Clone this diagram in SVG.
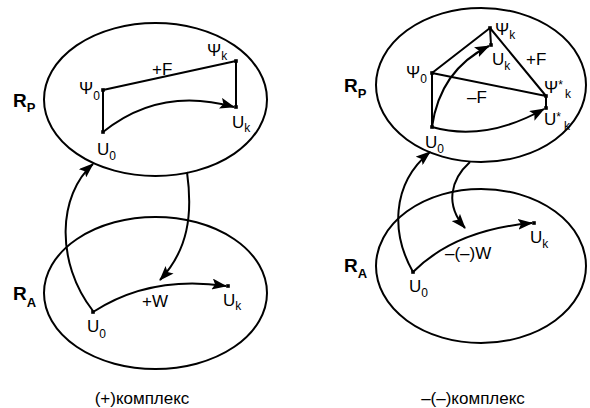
<svg xmlns="http://www.w3.org/2000/svg" width="590" height="408" viewBox="0 0 590 408">
<style>
.e{fill:none;stroke:#000;stroke-width:2}
.l{fill:none;stroke:#000;stroke-width:2}
.a{fill:none;stroke:#000;stroke-width:2;marker-end:url(#ah)}
.t{font-family:"Liberation Sans",Arial,sans-serif;font-size:17px;fill:#000}
.s{font-size:12px}
.r{font-family:"Liberation Sans",Arial,sans-serif;font-size:19px;font-weight:bold;fill:#000}
.rs{font-size:13px}
.c{font-family:"Liberation Sans",Arial,sans-serif;font-size:17px;fill:#000;text-anchor:middle}
</style>
<defs>
<marker id="ah" markerUnits="userSpaceOnUse" markerWidth="15" markerHeight="11" refX="14" refY="5.5" orient="auto">
<path d="M0,0 L15,5.5 L0,11 L3,5.5 z" fill="#000"/>
</marker>
<rect id="pt" x="-1.8" y="-1.8" width="3.6" height="3.6" fill="#000"/>
</defs>

<g id="left-RP">
<ellipse class="e" cx="155.5" cy="99.5" rx="111.5" ry="76.5"/>
<path class="l" d="M103,90 L236,61 M103,90 L103,132 M236,61 L236,107"/>
<path class="a" d="M103,132 Q160,86 234,107"/>
<use href="#pt" x="103" y="90"/><use href="#pt" x="236" y="61"/><use href="#pt" x="103" y="132"/><use href="#pt" x="236" y="107"/>
<text class="r" x="13" y="107">R<tspan class="rs" dy="5">P</tspan></text>
<text class="t" x="79" y="94">Ψ<tspan class="s" dy="6">0</tspan></text>
<text class="t" x="207" y="56">Ψ<tspan class="s" dy="4">k</tspan></text>
<text class="t" x="152" y="75">+F</text>
<text class="t" x="97" y="155">U<tspan class="s" dy="5">0</tspan></text>
<text class="t" x="232" y="128">U<tspan class="s" dy="4">k</tspan></text>
</g>

<g id="left-RA">
<ellipse class="e" cx="155.5" cy="293" rx="111.5" ry="76"/>
<path class="a" d="M93,312 Q150,275 226,286"/>
<use href="#pt" x="93" y="312"/><use href="#pt" x="228" y="286"/>
<text class="r" x="13" y="300">R<tspan class="rs" dy="7">A</tspan></text>
<text class="t" x="142" y="307">+W</text>
<text class="t" x="87" y="332">U<tspan class="s" dy="6">0</tspan></text>
<text class="t" x="223" y="306">U<tspan class="s" dy="4">k</tspan></text>
</g>

<g id="right-RP">
<ellipse class="e" cx="481" cy="85" rx="105" ry="77"/>
<path class="l" d="M432,73 L490,28 M490,28 L491,45 M490,28 L546,96 M432,73 L546,96 M432,73 L432,127 M546,96 L546,108"/>
<path class="a" d="M432,127 Q440,70 489,46"/>
<path class="a" d="M432,127 Q485,142 544,109"/>
<use href="#pt" x="490" y="28"/><use href="#pt" x="491" y="45"/><use href="#pt" x="432" y="73"/><use href="#pt" x="432" y="127"/><use href="#pt" x="546" y="96"/><use href="#pt" x="546" y="108"/>
<text class="r" x="344" y="92">R<tspan class="rs" dy="6">P</tspan></text>
<text class="t" x="495" y="35">Ψ<tspan class="s" dy="4">k</tspan></text>
<text class="t" x="492" y="65">U<tspan class="s" dy="5">k</tspan></text>
<text class="t" x="526" y="65">+F</text>
<text class="t" x="406" y="78">Ψ<tspan class="s" dy="5">0</tspan></text>
<text class="t" x="467" y="103">–F</text>
<text class="t" x="544" y="93">Ψ<tspan class="s" dy="-4">*</tspan><tspan class="s" dx="2" dy="9">k</tspan></text>
<text class="t" x="544" y="125">U<tspan class="s" dy="-4">*</tspan><tspan class="s" dx="3" dy="9">k</tspan></text>
<text class="t" x="425" y="148">U<tspan class="s" dy="5">0</tspan></text>
</g>

<g id="right-RA">
<ellipse class="e" cx="481" cy="266" rx="105" ry="77"/>
<path class="a" d="M413,272 Q455,230 532,223"/>
<use href="#pt" x="413" y="272"/><use href="#pt" x="534" y="223"/>
<text class="r" x="344" y="272">R<tspan class="rs" dy="6">A</tspan></text>
<text class="t" x="445" y="259">–(–)W</text>
<text class="t" x="530" y="243">U<tspan class="s" dy="5">k</tspan></text>
<text class="t" x="409" y="292">U<tspan class="s" dy="5">0</tspan></text>
</g>

<g id="connectors">
<path class="a" d="M93,311 C55,262 58,195 93,164"/>
<path class="a" d="M187,172 C193,215 188,250 160,280"/>
<path class="a" d="M413,272 C392,235 390,185 430,152"/>
<path class="a" d="M470,162 C450,180 445,205 465,228"/>
</g>

<text class="c" x="142" y="404">(+)комплекс</text>
<text class="c" x="473" y="404">–(–)комплекс</text>
</svg>
